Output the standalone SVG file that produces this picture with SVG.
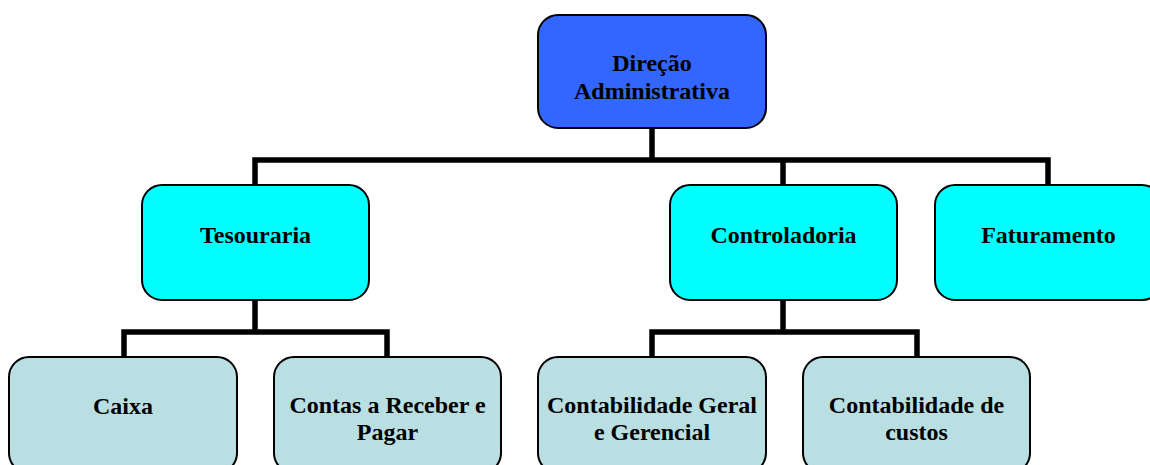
<svg xmlns="http://www.w3.org/2000/svg" width="1150" height="465" viewBox="0 0 1150 465">
<style>
.box{stroke:#000;stroke-width:2}
.l0{fill:#3366FF}
.l1{fill:#00FFFF}
.l2{fill:#B9DFE3}
.t{font-family:'Liberation Serif','Times New Roman',Times,serif;font-weight:bold;font-size:24px;fill:#000;text-anchor:middle}
.c{fill:none;stroke:#000;stroke-width:5.5;stroke-linejoin:miter;stroke-linecap:square}
</style>
<rect width="1150" height="465" fill="#fff"/>
<g id="connectors">
<path class="c" d="M652 128V160M255 185V160H1048V185M783 160V185"/>
<path class="c" d="M255 300V332M124 357V332H387V357"/>
<path class="c" d="M783 300V332M652 357V332H917V357"/>
</g>
<g id="direcao">
<rect class="box l0" x="538" y="15" width="228" height="113" rx="20"/>
<text class="t" x="652" y="71">Direção</text>
<text class="t" x="652" y="99">Administrativa</text>
</g>
<g id="tesouraria">
<rect class="box l1" x="142" y="185" width="227" height="115" rx="20"/>
<text class="t" x="255.5" y="243">Tesouraria</text>
</g>
<g id="controladoria">
<rect class="box l1" x="670" y="185" width="227" height="115" rx="20"/>
<text class="t" x="783.5" y="243">Controladoria</text>
</g>
<g id="faturamento">
<rect class="box l1" x="935" y="185" width="227" height="115" rx="20"/>
<text class="t" x="1048.5" y="243">Faturamento</text>
</g>
<g id="caixa">
<rect class="box l2" x="9" y="357" width="228" height="116" rx="20"/>
<text class="t" x="123" y="414">Caixa</text>
</g>
<g id="contas">
<rect class="box l2" x="274" y="357" width="227" height="116" rx="20"/>
<text class="t" x="387.5" y="413">Contas a Receber e</text>
<text class="t" x="387.5" y="440">Pagar</text>
</g>
<g id="contabGeral">
<rect class="box l2" x="538" y="357" width="228" height="116" rx="20"/>
<text class="t" x="652" y="413">Contabilidade Geral</text>
<text class="t" x="652" y="440">e Gerencial</text>
</g>
<g id="contabCustos">
<rect class="box l2" x="803" y="357" width="227" height="116" rx="20"/>
<text class="t" x="916.5" y="413">Contabilidade de</text>
<text class="t" x="916.5" y="440">custos</text>
</g>
</svg>
